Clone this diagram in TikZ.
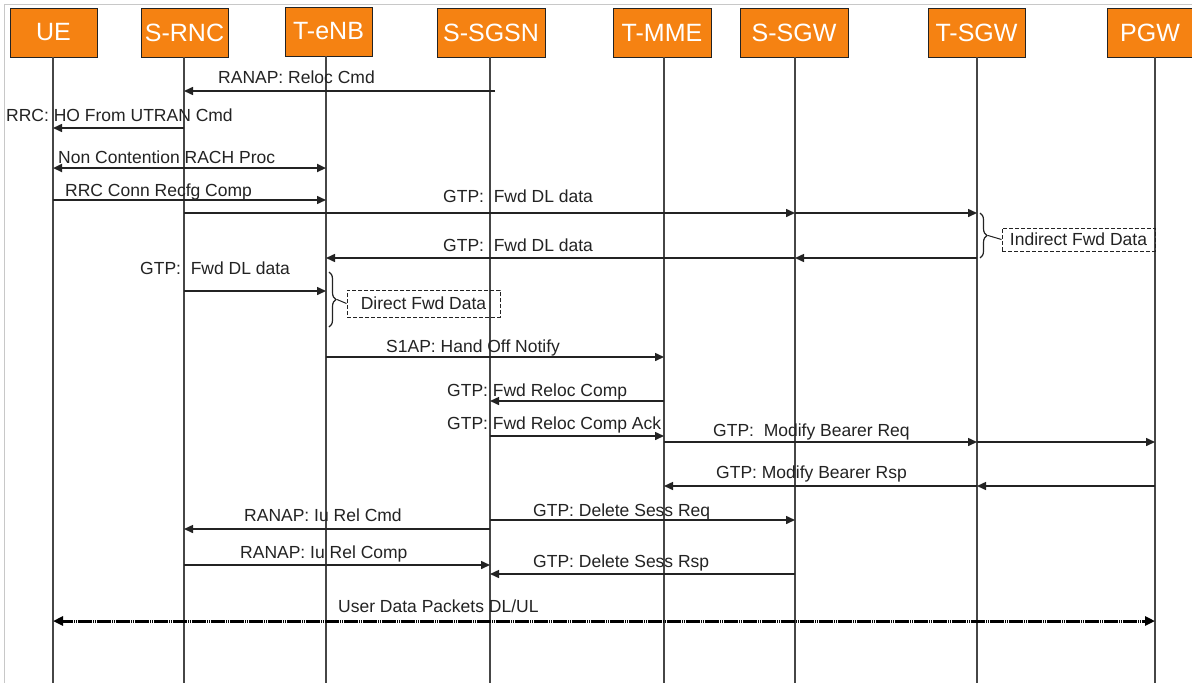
\documentclass[tikz,border=0pt]{standalone}
\usepackage{fontspec}
\setmainfont{Liberation Sans}
\usetikzlibrary{arrows.meta,decorations.pathreplacing}
\definecolor{boxorange}{RGB}{245,130,18}
\definecolor{ink}{RGB}{35,35,35}
\definecolor{lifeink}{RGB}{70,70,70}
\definecolor{frame}{RGB}{200,200,200}

\begin{document}
\begin{tikzpicture}[x=1pt,y=-1pt,
  entity/.style={draw=ink,line width=1pt,fill=boxorange,text=white,
    font=\fontsize{25}{28}\selectfont,minimum height=49pt,inner sep=0pt},
  life/.style={draw=lifeink,line width=1.3pt},
  tip/.tip={Triangle[length=9pt,width=8pt]},
  msg/.style={draw=ink,line width=1.5pt,-tip},
  bimsg/.style={draw=ink,line width=2.2pt,tip-tip},
  datamsg/.style={draw=black,line width=3pt,dash pattern=on 1.6pt off 0.3pt,
    {Triangle[length=10pt,width=9pt]}-{Triangle[length=10pt,width=9pt]}},
  lbl/.style={font=\fontsize{17.5}{20}\selectfont,text=ink,inner sep=0pt,anchor=base west},
  fwdbox/.style={draw=ink,line width=1pt,dash pattern=on 4pt off 2pt,
    font=\fontsize{17.5}{20}\selectfont,text=ink,inner sep=0pt},
  bracket/.style={draw=ink,line width=1.2pt,decorate,decoration={brace,amplitude=7pt}}
]
\useasboundingbox (0,0) rectangle (1192,683);
\fill[white] (0,0) rectangle (1192,683);
% light frame
\draw[frame,line width=1pt] (4,683) -- (4,4) -- (1192,4);

% entities
\node[entity,minimum width=87pt]  (ue)   at (53.5,32.5)  {UE};
\node[entity,minimum width=87pt]  (srnc) at (184.5,32.5) {S-RNC};
\node[entity,minimum width=87pt]  (tenb) at (328.5,31.5) {T-eNB};
\node[entity,minimum width=108pt] (sgsn) at (491,32.5)   {S-SGSN};
\node[entity,minimum width=98pt]  (tmme) at (662,32.5)   {T-MME};
\node[entity,minimum width=108pt] (ssgw) at (794,32.5)   {S-SGW};
\node[entity,minimum width=97pt]  (tsgw) at (976.5,32.5) {T-SGW};
\node[entity,minimum width=86pt]  (pgw)  at (1150,32.5)  {PGW};

% lifeline tops
\coordinate (Lue)   at (53,57);
\coordinate (Lsrnc) at (184,57);
\coordinate (Ltenb) at (326,56);
\coordinate (Lsgsn) at (490,57);
\coordinate (Ltmme) at (664,57);
\coordinate (Lssgw) at (795,57);
\coordinate (Ltsgw) at (977,57);
\coordinate (Lpgw)  at (1155,57);

\foreach \l in {Lue,Lsrnc,Ltenb,Lsgsn,Ltmme,Lssgw,Ltsgw,Lpgw}
  \draw[life] (\l) -- (\l |- 0,683);

% messages
\node[lbl] (m1) at (218,83) {RANAP: Reloc Cmd};
\draw[msg] ([xshift=5pt]Lsgsn |- 0,91) -- (Lsrnc |- 0,91);

\node[lbl] (m2) at (6,121) {RRC: HO From UTRAN Cmd};
\draw[msg] (Lsrnc |- 0,128) -- (Lue |- 0,128);

\node[lbl] (m3) at (58,163) {Non Contention RACH Proc};
\draw[bimsg] (Lue |- 0,168) -- (Ltenb |- 0,168);

\node[lbl] (m4) at (65,196) {RRC Conn Recfg Comp};
\draw[msg] (Lue |- 0,200) -- (Ltenb |- 0,200);

\node[lbl] (m5) at (443,202) {GTP:\ \ Fwd DL data};
\draw[msg] (Lsrnc |- 0,213) -- (Lssgw |- 0,213);
\draw[msg] (Lssgw |- 0,213) -- (Ltsgw |- 0,213);

\node[lbl] (m6) at (443,251) {GTP:\ \ Fwd DL data};
\draw[msg] (Ltsgw |- 0,258) -- (Lssgw |- 0,258);
\draw[msg] (Lssgw |- 0,258) -- (Ltenb |- 0,258);

% indirect forwarding
\node[fwdbox,minimum width=153pt,minimum height=23pt] (ifd) at (1078.5,239.5) {Indirect Fwd Data};
\draw[bracket] ([xshift=3pt]Ltsgw |- 0,213) -- coordinate[pos=0.5] (ib) ([xshift=3pt]Ltsgw |- 0,258);
\draw[ink,line width=1pt] ([xshift=8pt]ib) -- (ifd.west);

\node[lbl] (m7) at (140,274) {GTP:\ \ Fwd DL data};
\draw[msg] (Lsrnc |- 0,291) -- (Ltenb |- 0,291);

% direct forwarding
\node[fwdbox,minimum width=153pt,minimum height=27pt] (dfd) at (423.5,303.5) {Direct Fwd Data};
\draw[bracket] ([xshift=3pt]Ltenb |- 0,272) -- coordinate[pos=0.5] (db) ([xshift=3pt]Ltenb |- 0,327);
\draw[ink,line width=1pt] ([xshift=8pt]db) -- (dfd.west);

\node[lbl] (m8) at (386,352) {S1AP: Hand Off Notify};
\draw[msg] (Ltenb |- 0,357) -- (Ltmme |- 0,357);

\node[lbl] (m9) at (447,396) {GTP: Fwd Reloc Comp};
\draw[msg] (Ltmme |- 0,401) -- (Lsgsn |- 0,401);

\node[lbl] (m10) at (447,429) {GTP: Fwd Reloc Comp Ack};
\draw[msg] (Lsgsn |- 0,436) -- (Ltmme |- 0,436);

\node[lbl] (m11) at (713,436) {GTP:\ \ Modify Bearer Req};
\draw[msg] (Ltmme |- 0,442) -- (Ltsgw |- 0,442);
\draw[msg] (Ltsgw |- 0,442) -- (Lpgw |- 0,442);

\node[lbl] (m12) at (716,478) {GTP: Modify Bearer Rsp};
\draw[msg] (Lpgw |- 0,486) -- (Ltsgw |- 0,486);
\draw[msg] (Ltsgw |- 0,486) -- (Ltmme |- 0,486);

\node[lbl] (m13) at (533,516) {GTP: Delete Sess Req};
\draw[msg] (Lsgsn |- 0,520) -- (Lssgw |- 0,520);

\node[lbl] (m14) at (244,521) {RANAP: Iu Rel Cmd};
\draw[msg] (Lsgsn |- 0,529) -- (Lsrnc |- 0,529);

\node[lbl] (m15) at (240,558) {RANAP: Iu Rel Comp};
\draw[msg] (Lsrnc |- 0,565) -- (Lsgsn |- 0,565);

\node[lbl] (m16) at (533,567) {GTP: Delete Sess Rsp};
\draw[msg] (Lssgw |- 0,574) -- (Lsgsn |- 0,574);

\node[lbl] (m17) at (338,612) {User Data Packets DL/UL};
\draw[datamsg] (Lue |- 0,621) -- (Lpgw |- 0,621);
\end{tikzpicture}
\end{document}
